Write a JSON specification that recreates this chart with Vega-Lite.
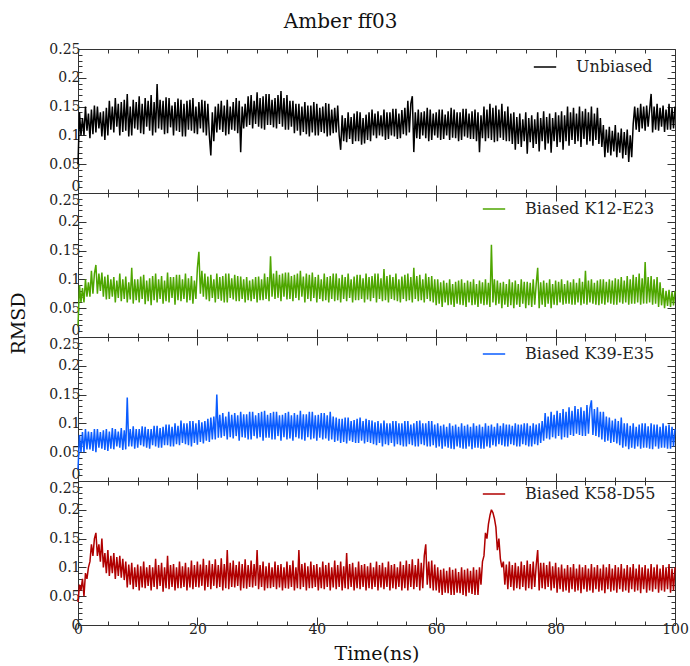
{
"$schema":"https://vega.github.io/schema/vega-lite/v6.json",
"padding":{"left":9,"top":12,"right":10,"bottom":5},
"title":{"text":"Amber ff03","fontSize":20,"font":"DejaVu Serif","fontWeight":"normal","anchor":"middle","offset":10,"dx":-8,"color":"#111"},
"config":{"font":"DejaVu Serif","view":{"stroke":null},"line":{"strokeWidth":1.5,"strokeJoin":"bevel"},"axis":{"labelFont":"DejaVu Serif","labelFontSize":14,"labelColor":"#222","titleFont":"DejaVu Serif","titleFontWeight":"normal","titleColor":"#111","grid":false,"domainColor":"#333","tickColor":"#333","labelOverlap":false,"labelFlush":false,"labelBound":false},"legend":{"orient":"none","title":null,"symbolType":"stroke","symbolSize":500,"symbolStrokeWidth":1.2,"labelFont":"DejaVu Serif","labelFontSize":16,"labelColor":"#222","labelOffset":19,"padding":0}},
"spacing":0,
"bounds":"flush",
"resolve":{"scale":{"color":"independent"},"legend":{"color":"independent"}},
"data":{"values":[
{"t":0,"u":0.05,"g":0.02,"b":0.02,"r":0.04},
{"t":0.25,"u":0.14,"g":0.09,"b":0.08,"r":0.07},
{"t":0.5,"u":0.1,"g":0.06,"b":0.05,"r":0.06},
{"t":0.75,"u":0.13,"g":0.085,"b":0.085,"r":0.08},
{"t":1,"u":0.1,"g":0.06,"b":0.05,"r":0.05},
{"t":1.25,"u":0.15,"g":0.1,"b":0.09,"r":0.09},
{"t":1.5,"u":0.108,"g":0.07,"b":0.055,"r":0.08},
{"t":1.75,"u":0.138,"g":0.095,"b":0.086,"r":0.1},
{"t":2,"u":0.095,"g":0.07,"b":0.055,"r":0.11},
{"t":2.25,"u":0.145,"g":0.115,"b":0.085,"r":0.14},
{"t":2.5,"u":0.102,"g":0.075,"b":0.052,"r":0.12},
{"t":2.75,"u":0.152,"g":0.11,"b":0.09,"r":0.15},
{"t":3,"u":0.105,"g":0.125,"b":0.05,"r":0.16},
{"t":3.25,"u":0.15,"g":0.075,"b":0.09,"r":0.12},
{"t":3.5,"u":0.112,"g":0.11,"b":0.058,"r":0.14},
{"t":3.75,"u":0.14,"g":0.08,"b":0.085,"r":0.11},
{"t":4,"u":0.098,"g":0.112,"b":0.056,"r":0.15},
{"t":4.25,"u":0.142,"g":0.07,"b":0.088,"r":0.1},
{"t":4.5,"u":0.092,"g":0.105,"b":0.054,"r":0.125},
{"t":4.75,"u":0.148,"g":0.065,"b":0.09,"r":0.09},
{"t":5,"u":0.1,"g":0.108,"b":0.052,"r":0.13},
{"t":5.25,"u":0.16,"g":0.066,"b":0.086,"r":0.085},
{"t":5.5,"u":0.11,"g":0.1,"b":0.056,"r":0.12},
{"t":5.75,"u":0.15,"g":0.07,"b":0.092,"r":0.09},
{"t":6,"u":0.105,"g":0.104,"b":0.055,"r":0.125},
{"t":6.25,"u":0.165,"g":0.06,"b":0.09,"r":0.08},
{"t":6.5,"u":0.115,"g":0.098,"b":0.06,"r":0.118},
{"t":6.75,"u":0.155,"g":0.068,"b":0.086,"r":0.085},
{"t":7,"u":0.1,"g":0.11,"b":0.058,"r":0.12},
{"t":7.25,"u":0.158,"g":0.062,"b":0.092,"r":0.082},
{"t":7.5,"u":0.106,"g":0.1,"b":0.054,"r":0.115},
{"t":7.75,"u":0.162,"g":0.066,"b":0.088,"r":0.078},
{"t":8,"u":0.108,"g":0.105,"b":0.055,"r":0.11},
{"t":8.25,"u":0.172,"g":0.06,"b":0.145,"r":0.065},
{"t":8.5,"u":0.098,"g":0.095,"b":0.06,"r":0.105},
{"t":8.75,"u":0.15,"g":0.065,"b":0.09,"r":0.07},
{"t":9,"u":0.1,"g":0.12,"b":0.06,"r":0.108},
{"t":9.25,"u":0.162,"g":0.058,"b":0.095,"r":0.062},
{"t":9.5,"u":0.112,"g":0.1,"b":0.056,"r":0.1},
{"t":9.75,"u":0.158,"g":0.064,"b":0.09,"r":0.066},
{"t":10,"u":0.11,"g":0.1,"b":0.058,"r":0.105},
{"t":10.25,"u":0.168,"g":0.06,"b":0.09,"r":0.06},
{"t":10.5,"u":0.104,"g":0.105,"b":0.062,"r":0.102},
{"t":10.75,"u":0.155,"g":0.066,"b":0.095,"r":0.065},
{"t":11,"u":0.102,"g":0.108,"b":0.06,"r":0.11},
{"t":11.25,"u":0.165,"g":0.057,"b":0.094,"r":0.064},
{"t":11.5,"u":0.115,"g":0.098,"b":0.058,"r":0.1},
{"t":11.75,"u":0.16,"g":0.062,"b":0.09,"r":0.068},
{"t":12,"u":0.108,"g":0.102,"b":0.056,"r":0.104},
{"t":12.25,"u":0.17,"g":0.055,"b":0.09,"r":0.06},
{"t":12.5,"u":0.1,"g":0.106,"b":0.062,"r":0.1},
{"t":12.75,"u":0.158,"g":0.064,"b":0.096,"r":0.066},
{"t":13,"u":0.105,"g":0.11,"b":0.06,"r":0.115},
{"t":13.25,"u":0.189,"g":0.06,"b":0.096,"r":0.062},
{"t":13.5,"u":0.112,"g":0.1,"b":0.058,"r":0.104},
{"t":13.75,"u":0.162,"g":0.066,"b":0.092,"r":0.068},
{"t":14,"u":0.11,"g":0.106,"b":0.058,"r":0.108},
{"t":14.25,"u":0.16,"g":0.058,"b":0.094,"r":0.058},
{"t":14.5,"u":0.102,"g":0.098,"b":0.062,"r":0.1},
{"t":14.75,"u":0.166,"g":0.062,"b":0.098,"r":0.064},
{"t":15,"u":0.104,"g":0.112,"b":0.062,"r":0.12},
{"t":15.25,"u":0.165,"g":0.06,"b":0.098,"r":0.062},
{"t":15.5,"u":0.114,"g":0.104,"b":0.06,"r":0.104},
{"t":15.75,"u":0.152,"g":0.068,"b":0.094,"r":0.066},
{"t":16,"u":0.1,"g":0.104,"b":0.06,"r":0.106},
{"t":16.25,"u":0.158,"g":0.056,"b":0.1,"r":0.06},
{"t":16.5,"u":0.108,"g":0.108,"b":0.064,"r":0.1},
{"t":16.75,"u":0.164,"g":0.064,"b":0.096,"r":0.064},
{"t":17,"u":0.106,"g":0.108,"b":0.062,"r":0.11},
{"t":17.25,"u":0.162,"g":0.062,"b":0.105,"r":0.064},
{"t":17.5,"u":0.098,"g":0.1,"b":0.066,"r":0.102},
{"t":17.75,"u":0.155,"g":0.066,"b":0.1,"r":0.066},
{"t":18,"u":0.098,"g":0.11,"b":0.064,"r":0.108},
{"t":18.25,"u":0.16,"g":0.06,"b":0.1,"r":0.06},
{"t":18.5,"u":0.11,"g":0.102,"b":0.062,"r":0.1},
{"t":18.75,"u":0.162,"g":0.064,"b":0.104,"r":0.065},
{"t":19,"u":0.108,"g":0.106,"b":0.06,"r":0.112},
{"t":19.25,"u":0.165,"g":0.058,"b":0.104,"r":0.062},
{"t":19.5,"u":0.104,"g":0.098,"b":0.066,"r":0.104},
{"t":19.75,"u":0.15,"g":0.066,"b":0.1,"r":0.066},
{"t":20,"u":0.102,"g":0.12,"b":0.063,"r":0.11},
{"t":20.25,"u":0.158,"g":0.148,"b":0.106,"r":0.065},
{"t":20.5,"u":0.112,"g":0.075,"b":0.068,"r":0.105},
{"t":20.75,"u":0.162,"g":0.115,"b":0.102,"r":0.068},
{"t":21,"u":0.105,"g":0.07,"b":0.065,"r":0.115},
{"t":21.25,"u":0.16,"g":0.11,"b":0.104,"r":0.06},
{"t":21.5,"u":0.1,"g":0.065,"b":0.07,"r":0.104},
{"t":21.75,"u":0.155,"g":0.105,"b":0.108,"r":0.066},
{"t":22,"u":0.1,"g":0.062,"b":0.068,"r":0.112},
{"t":22.25,"u":0.065,"g":0.108,"b":0.11,"r":0.062},
{"t":22.5,"u":0.14,"g":0.068,"b":0.072,"r":0.106},
{"t":22.75,"u":0.09,"g":0.1,"b":0.112,"r":0.068},
{"t":23,"u":0.15,"g":0.06,"b":0.072,"r":0.114},
{"t":23.25,"u":0.105,"g":0.11,"b":0.15,"r":0.064},
{"t":23.5,"u":0.155,"g":0.066,"b":0.075,"r":0.104},
{"t":23.75,"u":0.11,"g":0.104,"b":0.115,"r":0.066},
{"t":24,"u":0.16,"g":0.063,"b":0.075,"r":0.116},
{"t":24.25,"u":0.106,"g":0.106,"b":0.118,"r":0.06},
{"t":24.5,"u":0.152,"g":0.06,"b":0.078,"r":0.106},
{"t":24.75,"u":0.1,"g":0.11,"b":0.112,"r":0.064},
{"t":25,"u":0.162,"g":0.06,"b":0.072,"r":0.13},
{"t":25.25,"u":0.102,"g":0.11,"b":0.12,"r":0.062},
{"t":25.5,"u":0.15,"g":0.068,"b":0.076,"r":0.108},
{"t":25.75,"u":0.11,"g":0.102,"b":0.115,"r":0.066},
{"t":26,"u":0.158,"g":0.065,"b":0.074,"r":0.112},
{"t":26.25,"u":0.108,"g":0.108,"b":0.118,"r":0.065},
{"t":26.5,"u":0.165,"g":0.062,"b":0.078,"r":0.104},
{"t":26.75,"u":0.104,"g":0.106,"b":0.114,"r":0.068},
{"t":27,"u":0.16,"g":0.062,"b":0.07,"r":0.11},
{"t":27.25,"u":0.071,"g":0.105,"b":0.12,"r":0.06},
{"t":27.5,"u":0.15,"g":0.066,"b":0.076,"r":0.106},
{"t":27.75,"u":0.112,"g":0.1,"b":0.116,"r":0.064},
{"t":28,"u":0.155,"g":0.06,"b":0.075,"r":0.114},
{"t":28.25,"u":0.115,"g":0.104,"b":0.116,"r":0.063},
{"t":28.5,"u":0.168,"g":0.064,"b":0.072,"r":0.104},
{"t":28.75,"u":0.118,"g":0.098,"b":0.12,"r":0.066},
{"t":29,"u":0.17,"g":0.062,"b":0.072,"r":0.112},
{"t":29.25,"u":0.112,"g":0.1,"b":0.12,"r":0.065},
{"t":29.5,"u":0.16,"g":0.066,"b":0.078,"r":0.106},
{"t":29.75,"u":0.12,"g":0.104,"b":0.114,"r":0.068},
{"t":30,"u":0.175,"g":0.06,"b":0.074,"r":0.13},
{"t":30.25,"u":0.115,"g":0.105,"b":0.118,"r":0.062},
{"t":30.5,"u":0.165,"g":0.064,"b":0.076,"r":0.104},
{"t":30.75,"u":0.112,"g":0.1,"b":0.12,"r":0.066},
{"t":31,"u":0.168,"g":0.064,"b":0.07,"r":0.11},
{"t":31.25,"u":0.11,"g":0.11,"b":0.122,"r":0.06},
{"t":31.5,"u":0.172,"g":0.066,"b":0.075,"r":0.102},
{"t":31.75,"u":0.118,"g":0.104,"b":0.115,"r":0.064},
{"t":32,"u":0.172,"g":0.062,"b":0.075,"r":0.108},
{"t":32.25,"u":0.118,"g":0.14,"b":0.118,"r":0.064},
{"t":32.5,"u":0.162,"g":0.07,"b":0.072,"r":0.1},
{"t":32.75,"u":0.114,"g":0.11,"b":0.12,"r":0.066},
{"t":33,"u":0.165,"g":0.066,"b":0.072,"r":0.11},
{"t":33.25,"u":0.112,"g":0.115,"b":0.12,"r":0.062},
{"t":33.5,"u":0.17,"g":0.068,"b":0.078,"r":0.104},
{"t":33.75,"u":0.12,"g":0.108,"b":0.114,"r":0.065},
{"t":34,"u":0.177,"g":0.062,"b":0.07,"r":0.106},
{"t":34.25,"u":0.115,"g":0.11,"b":0.115,"r":0.06},
{"t":34.5,"u":0.165,"g":0.07,"b":0.076,"r":0.1},
{"t":34.75,"u":0.11,"g":0.112,"b":0.118,"r":0.064},
{"t":35,"u":0.17,"g":0.065,"b":0.072,"r":0.11},
{"t":35.25,"u":0.11,"g":0.112,"b":0.12,"r":0.063},
{"t":35.5,"u":0.16,"g":0.066,"b":0.074,"r":0.104},
{"t":35.75,"u":0.115,"g":0.106,"b":0.114,"r":0.066},
{"t":36,"u":0.16,"g":0.062,"b":0.07,"r":0.112},
{"t":36.25,"u":0.104,"g":0.108,"b":0.118,"r":0.06},
{"t":36.5,"u":0.155,"g":0.068,"b":0.076,"r":0.1},
{"t":36.75,"u":0.108,"g":0.11,"b":0.115,"r":0.064},
{"t":37,"u":0.155,"g":0.064,"b":0.074,"r":0.13},
{"t":37.25,"u":0.1,"g":0.115,"b":0.122,"r":0.062},
{"t":37.5,"u":0.15,"g":0.07,"b":0.072,"r":0.106},
{"t":37.75,"u":0.106,"g":0.105,"b":0.116,"r":0.066},
{"t":38,"u":0.158,"g":0.06,"b":0.07,"r":0.108},
{"t":38.25,"u":0.102,"g":0.11,"b":0.116,"r":0.06},
{"t":38.5,"u":0.152,"g":0.066,"b":0.076,"r":0.102},
{"t":38.75,"u":0.098,"g":0.108,"b":0.12,"r":0.064},
{"t":39,"u":0.152,"g":0.062,"b":0.072,"r":0.11},
{"t":39.25,"u":0.105,"g":0.112,"b":0.12,"r":0.064},
{"t":39.5,"u":0.158,"g":0.068,"b":0.074,"r":0.104},
{"t":39.75,"u":0.1,"g":0.104,"b":0.114,"r":0.066},
{"t":40,"u":0.155,"g":0.06,"b":0.07,"r":0.106},
{"t":40.25,"u":0.1,"g":0.108,"b":0.115,"r":0.06},
{"t":40.5,"u":0.148,"g":0.066,"b":0.075,"r":0.1},
{"t":40.75,"u":0.106,"g":0.1,"b":0.118,"r":0.064},
{"t":41,"u":0.15,"g":0.062,"b":0.072,"r":0.11},
{"t":41.25,"u":0.104,"g":0.11,"b":0.118,"r":0.062},
{"t":41.5,"u":0.156,"g":0.064,"b":0.074,"r":0.104},
{"t":41.75,"u":0.098,"g":0.104,"b":0.114,"r":0.066},
{"t":42,"u":0.155,"g":0.06,"b":0.07,"r":0.108},
{"t":42.25,"u":0.1,"g":0.106,"b":0.12,"r":0.06},
{"t":42.5,"u":0.145,"g":0.066,"b":0.072,"r":0.1},
{"t":42.75,"u":0.104,"g":0.11,"b":0.112,"r":0.065},
{"t":43,"u":0.148,"g":0.062,"b":0.068,"r":0.112},
{"t":43.25,"u":0.105,"g":0.11,"b":0.11,"r":0.062},
{"t":43.5,"u":0.152,"g":0.064,"b":0.07,"r":0.104},
{"t":43.75,"u":0.1,"g":0.102,"b":0.108,"r":0.066},
{"t":44,"u":0.075,"g":0.06,"b":0.066,"r":0.11},
{"t":44.25,"u":0.135,"g":0.108,"b":0.108,"r":0.06},
{"t":44.5,"u":0.09,"g":0.066,"b":0.068,"r":0.102},
{"t":44.75,"u":0.13,"g":0.104,"b":0.11,"r":0.064},
{"t":45,"u":0.088,"g":0.062,"b":0.065,"r":0.125},
{"t":45.25,"u":0.14,"g":0.11,"b":0.11,"r":0.062},
{"t":45.5,"u":0.094,"g":0.068,"b":0.07,"r":0.106},
{"t":45.75,"u":0.132,"g":0.1,"b":0.104,"r":0.066},
{"t":46,"u":0.085,"g":0.06,"b":0.068,"r":0.108},
{"t":46.25,"u":0.138,"g":0.105,"b":0.106,"r":0.06},
{"t":46.5,"u":0.09,"g":0.064,"b":0.066,"r":0.1},
{"t":46.75,"u":0.142,"g":0.108,"b":0.108,"r":0.064},
{"t":47,"u":0.09,"g":0.064,"b":0.066,"r":0.11},
{"t":47.25,"u":0.14,"g":0.108,"b":0.11,"r":0.062},
{"t":47.5,"u":0.084,"g":0.066,"b":0.07,"r":0.104},
{"t":47.75,"u":0.13,"g":0.102,"b":0.104,"r":0.066},
{"t":48,"u":0.086,"g":0.06,"b":0.065,"r":0.106},
{"t":48.25,"u":0.136,"g":0.11,"b":0.108,"r":0.06},
{"t":48.5,"u":0.092,"g":0.065,"b":0.068,"r":0.102},
{"t":48.75,"u":0.14,"g":0.104,"b":0.106,"r":0.064},
{"t":49,"u":0.09,"g":0.062,"b":0.066,"r":0.108},
{"t":49.25,"u":0.145,"g":0.106,"b":0.105,"r":0.062},
{"t":49.5,"u":0.1,"g":0.068,"b":0.064,"r":0.1},
{"t":49.75,"u":0.138,"g":0.11,"b":0.102,"r":0.066},
{"t":50,"u":0.095,"g":0.06,"b":0.062,"r":0.11},
{"t":50.25,"u":0.142,"g":0.11,"b":0.104,"r":0.06},
{"t":50.5,"u":0.1,"g":0.066,"b":0.066,"r":0.104},
{"t":50.75,"u":0.135,"g":0.102,"b":0.1,"r":0.065},
{"t":51,"u":0.098,"g":0.062,"b":0.06,"r":0.108},
{"t":51.25,"u":0.145,"g":0.118,"b":0.105,"r":0.062},
{"t":51.5,"u":0.092,"g":0.064,"b":0.064,"r":0.1},
{"t":51.75,"u":0.14,"g":0.106,"b":0.1,"r":0.066},
{"t":52,"u":0.094,"g":0.06,"b":0.062,"r":0.11},
{"t":52.25,"u":0.14,"g":0.108,"b":0.1,"r":0.06},
{"t":52.5,"u":0.1,"g":0.066,"b":0.066,"r":0.104},
{"t":52.75,"u":0.146,"g":0.104,"b":0.104,"r":0.064},
{"t":53,"u":0.098,"g":0.064,"b":0.06,"r":0.106},
{"t":53.25,"u":0.146,"g":0.11,"b":0.104,"r":0.062},
{"t":53.5,"u":0.094,"g":0.062,"b":0.064,"r":0.1},
{"t":53.75,"u":0.138,"g":0.1,"b":0.1,"r":0.066},
{"t":54,"u":0.095,"g":0.06,"b":0.062,"r":0.11},
{"t":54.25,"u":0.144,"g":0.105,"b":0.1,"r":0.06},
{"t":54.5,"u":0.102,"g":0.066,"b":0.06,"r":0.104},
{"t":54.75,"u":0.148,"g":0.108,"b":0.104,"r":0.064},
{"t":55,"u":0.1,"g":0.062,"b":0.06,"r":0.112},
{"t":55.25,"u":0.16,"g":0.11,"b":0.104,"r":0.06},
{"t":55.5,"u":0.105,"g":0.064,"b":0.064,"r":0.106},
{"t":55.75,"u":0.155,"g":0.104,"b":0.098,"r":0.066},
{"t":56,"u":0.168,"g":0.06,"b":0.062,"r":0.114},
{"t":56.25,"u":0.071,"g":0.12,"b":0.1,"r":0.062},
{"t":56.5,"u":0.14,"g":0.066,"b":0.06,"r":0.104},
{"t":56.75,"u":0.095,"g":0.106,"b":0.104,"r":0.066},
{"t":57,"u":0.145,"g":0.062,"b":0.06,"r":0.115},
{"t":57.25,"u":0.094,"g":0.108,"b":0.105,"r":0.06},
{"t":57.5,"u":0.14,"g":0.064,"b":0.064,"r":0.108},
{"t":57.75,"u":0.1,"g":0.1,"b":0.1,"r":0.064},
{"t":58,"u":0.142,"g":0.06,"b":0.062,"r":0.12},
{"t":58.25,"u":0.095,"g":0.11,"b":0.1,"r":0.14},
{"t":58.5,"u":0.148,"g":0.066,"b":0.06,"r":0.07},
{"t":58.75,"u":0.09,"g":0.104,"b":0.104,"r":0.11},
{"t":59,"u":0.145,"g":0.062,"b":0.06,"r":0.064},
{"t":59.25,"u":0.092,"g":0.106,"b":0.104,"r":0.112},
{"t":59.5,"u":0.138,"g":0.06,"b":0.062,"r":0.06},
{"t":59.75,"u":0.1,"g":0.1,"b":0.098,"r":0.105},
{"t":60,"u":0.14,"g":0.055,"b":0.058,"r":0.06},
{"t":60.25,"u":0.096,"g":0.1,"b":0.1,"r":0.1},
{"t":60.5,"u":0.145,"g":0.058,"b":0.06,"r":0.056},
{"t":60.75,"u":0.092,"g":0.095,"b":0.096,"r":0.096},
{"t":61,"u":0.145,"g":0.052,"b":0.056,"r":0.052},
{"t":61.25,"u":0.094,"g":0.098,"b":0.098,"r":0.098},
{"t":61.5,"u":0.136,"g":0.06,"b":0.06,"r":0.056},
{"t":61.75,"u":0.1,"g":0.094,"b":0.094,"r":0.094},
{"t":62,"u":0.142,"g":0.055,"b":0.058,"r":0.055},
{"t":62.25,"u":0.092,"g":0.1,"b":0.1,"r":0.1},
{"t":62.5,"u":0.148,"g":0.056,"b":0.056,"r":0.052},
{"t":62.75,"u":0.096,"g":0.092,"b":0.096,"r":0.096},
{"t":63,"u":0.145,"g":0.052,"b":0.055,"r":0.052},
{"t":63.25,"u":0.095,"g":0.096,"b":0.098,"r":0.098},
{"t":63.5,"u":0.14,"g":0.058,"b":0.06,"r":0.056},
{"t":63.75,"u":0.09,"g":0.098,"b":0.094,"r":0.092},
{"t":64,"u":0.14,"g":0.056,"b":0.058,"r":0.055},
{"t":64.25,"u":0.092,"g":0.1,"b":0.1,"r":0.1},
{"t":64.5,"u":0.146,"g":0.055,"b":0.056,"r":0.052},
{"t":64.75,"u":0.098,"g":0.094,"b":0.096,"r":0.096},
{"t":65,"u":0.146,"g":0.052,"b":0.056,"r":0.05},
{"t":65.25,"u":0.096,"g":0.098,"b":0.098,"r":0.098},
{"t":65.5,"u":0.138,"g":0.06,"b":0.06,"r":0.056},
{"t":65.75,"u":0.094,"g":0.096,"b":0.094,"r":0.094},
{"t":66,"u":0.142,"g":0.055,"b":0.055,"r":0.054},
{"t":66.25,"u":0.094,"g":0.1,"b":0.1,"r":0.1},
{"t":66.5,"u":0.145,"g":0.056,"b":0.058,"r":0.052},
{"t":66.75,"u":0.09,"g":0.092,"b":0.096,"r":0.096},
{"t":67,"u":0.14,"g":0.052,"b":0.058,"r":0.052},
{"t":67.25,"u":0.071,"g":0.098,"b":0.098,"r":0.1},
{"t":67.5,"u":0.135,"g":0.058,"b":0.056,"r":0.07},
{"t":67.75,"u":0.095,"g":0.095,"b":0.094,"r":0.11},
{"t":68,"u":0.15,"g":0.055,"b":0.056,"r":0.12},
{"t":68.25,"u":0.09,"g":0.1,"b":0.1,"r":0.16},
{"t":68.5,"u":0.145,"g":0.056,"b":0.06,"r":0.15},
{"t":68.75,"u":0.095,"g":0.094,"b":0.096,"r":0.175},
{"t":69,"u":0.155,"g":0.052,"b":0.058,"r":0.19},
{"t":69.25,"u":0.092,"g":0.16,"b":0.098,"r":0.2},
{"t":69.5,"u":0.148,"g":0.06,"b":0.062,"r":0.195},
{"t":69.75,"u":0.088,"g":0.1,"b":0.094,"r":0.185},
{"t":70,"u":0.152,"g":0.055,"b":0.06,"r":0.17},
{"t":70.25,"u":0.09,"g":0.098,"b":0.1,"r":0.13},
{"t":70.5,"u":0.145,"g":0.058,"b":0.064,"r":0.15},
{"t":70.75,"u":0.096,"g":0.094,"b":0.096,"r":0.115},
{"t":71,"u":0.155,"g":0.05,"b":0.062,"r":0.1},
{"t":71.25,"u":0.092,"g":0.096,"b":0.1,"r":0.11},
{"t":71.5,"u":0.142,"g":0.056,"b":0.06,"r":0.07},
{"t":71.75,"u":0.09,"g":0.092,"b":0.098,"r":0.105},
{"t":72,"u":0.15,"g":0.052,"b":0.06,"r":0.062},
{"t":72.25,"u":0.09,"g":0.1,"b":0.098,"r":0.11},
{"t":72.5,"u":0.138,"g":0.055,"b":0.064,"r":0.066},
{"t":72.75,"u":0.085,"g":0.095,"b":0.096,"r":0.104},
{"t":73,"u":0.14,"g":0.05,"b":0.062,"r":0.06},
{"t":73.25,"u":0.075,"g":0.098,"b":0.1,"r":0.108},
{"t":73.5,"u":0.132,"g":0.056,"b":0.06,"r":0.064},
{"t":73.75,"u":0.085,"g":0.092,"b":0.098,"r":0.102},
{"t":74,"u":0.138,"g":0.052,"b":0.06,"r":0.062},
{"t":74.25,"u":0.08,"g":0.1,"b":0.098,"r":0.11},
{"t":74.5,"u":0.128,"g":0.058,"b":0.064,"r":0.066},
{"t":74.75,"u":0.09,"g":0.096,"b":0.1,"r":0.104},
{"t":75,"u":0.14,"g":0.05,"b":0.062,"r":0.06},
{"t":75.25,"u":0.068,"g":0.096,"b":0.1,"r":0.112},
{"t":75.5,"u":0.13,"g":0.055,"b":0.06,"r":0.064},
{"t":75.75,"u":0.088,"g":0.094,"b":0.096,"r":0.106},
{"t":76,"u":0.135,"g":0.052,"b":0.06,"r":0.062},
{"t":76.25,"u":0.078,"g":0.1,"b":0.1,"r":0.11},
{"t":76.5,"u":0.128,"g":0.056,"b":0.064,"r":0.066},
{"t":76.75,"u":0.085,"g":0.092,"b":0.098,"r":0.104},
{"t":77,"u":0.14,"g":0.12,"b":0.062,"r":0.13},
{"t":77.25,"u":0.072,"g":0.05,"b":0.1,"r":0.06},
{"t":77.5,"u":0.13,"g":0.095,"b":0.066,"r":0.108},
{"t":77.75,"u":0.09,"g":0.056,"b":0.104,"r":0.064},
{"t":78,"u":0.142,"g":0.098,"b":0.07,"r":0.108},
{"t":78.25,"u":0.075,"g":0.052,"b":0.118,"r":0.062},
{"t":78.5,"u":0.132,"g":0.094,"b":0.074,"r":0.104},
{"t":78.75,"u":0.086,"g":0.058,"b":0.112,"r":0.066},
{"t":79,"u":0.138,"g":0.1,"b":0.072,"r":0.11},
{"t":79.25,"u":0.07,"g":0.05,"b":0.12,"r":0.06},
{"t":79.5,"u":0.13,"g":0.092,"b":0.076,"r":0.102},
{"t":79.75,"u":0.09,"g":0.056,"b":0.115,"r":0.064},
{"t":80,"u":0.14,"g":0.098,"b":0.074,"r":0.108},
{"t":80.25,"u":0.08,"g":0.055,"b":0.122,"r":0.056},
{"t":80.5,"u":0.135,"g":0.096,"b":0.078,"r":0.1},
{"t":80.75,"u":0.088,"g":0.06,"b":0.118,"r":0.062},
{"t":81,"u":0.142,"g":0.1,"b":0.072,"r":0.105},
{"t":81.25,"u":0.075,"g":0.056,"b":0.125,"r":0.058},
{"t":81.5,"u":0.135,"g":0.092,"b":0.076,"r":0.098},
{"t":81.75,"u":0.09,"g":0.058,"b":0.12,"r":0.06},
{"t":82,"u":0.15,"g":0.098,"b":0.075,"r":0.104},
{"t":82.25,"u":0.082,"g":0.058,"b":0.128,"r":0.056},
{"t":82.5,"u":0.14,"g":0.095,"b":0.08,"r":0.1},
{"t":82.75,"u":0.092,"g":0.056,"b":0.122,"r":0.062},
{"t":83,"u":0.148,"g":0.1,"b":0.078,"r":0.106},
{"t":83.25,"u":0.085,"g":0.056,"b":0.13,"r":0.058},
{"t":83.5,"u":0.138,"g":0.094,"b":0.082,"r":0.098},
{"t":83.75,"u":0.09,"g":0.06,"b":0.125,"r":0.06},
{"t":84,"u":0.15,"g":0.102,"b":0.08,"r":0.105},
{"t":84.25,"u":0.08,"g":0.055,"b":0.128,"r":0.055},
{"t":84.5,"u":0.142,"g":0.096,"b":0.078,"r":0.1},
{"t":84.75,"u":0.094,"g":0.058,"b":0.122,"r":0.062},
{"t":85,"u":0.146,"g":0.115,"b":0.078,"r":0.104},
{"t":85.25,"u":0.084,"g":0.056,"b":0.132,"r":0.058},
{"t":85.5,"u":0.14,"g":0.098,"b":0.082,"r":0.098},
{"t":85.75,"u":0.09,"g":0.06,"b":0.126,"r":0.06},
{"t":86,"u":0.15,"g":0.1,"b":0.14,"r":0.106},
{"t":86.25,"u":0.082,"g":0.058,"b":0.08,"r":0.056},
{"t":86.5,"u":0.138,"g":0.094,"b":0.125,"r":0.1},
{"t":86.75,"u":0.092,"g":0.056,"b":0.078,"r":0.062},
{"t":87,"u":0.148,"g":0.098,"b":0.128,"r":0.104},
{"t":87.25,"u":0.085,"g":0.055,"b":0.076,"r":0.058},
{"t":87.5,"u":0.13,"g":0.1,"b":0.12,"r":0.098},
{"t":87.75,"u":0.08,"g":0.058,"b":0.072,"r":0.06},
{"t":88,"u":0.118,"g":0.1,"b":0.12,"r":0.105},
{"t":88.25,"u":0.062,"g":0.056,"b":0.068,"r":0.055},
{"t":88.5,"u":0.11,"g":0.096,"b":0.112,"r":0.1},
{"t":88.75,"u":0.07,"g":0.06,"b":0.07,"r":0.062},
{"t":89,"u":0.115,"g":0.1,"b":0.11,"r":0.106},
{"t":89.25,"u":0.065,"g":0.058,"b":0.066,"r":0.058},
{"t":89.5,"u":0.108,"g":0.098,"b":0.105,"r":0.098},
{"t":89.75,"u":0.072,"g":0.056,"b":0.068,"r":0.06},
{"t":90,"u":0.118,"g":0.102,"b":0.108,"r":0.104},
{"t":90.25,"u":0.062,"g":0.056,"b":0.065,"r":0.056},
{"t":90.5,"u":0.105,"g":0.1,"b":0.104,"r":0.1},
{"t":90.75,"u":0.07,"g":0.06,"b":0.062,"r":0.062},
{"t":91,"u":0.112,"g":0.104,"b":0.11,"r":0.106},
{"t":91.25,"u":0.06,"g":0.058,"b":0.058,"r":0.058},
{"t":91.5,"u":0.106,"g":0.098,"b":0.1,"r":0.098},
{"t":91.75,"u":0.066,"g":0.06,"b":0.06,"r":0.06},
{"t":92,"u":0.11,"g":0.106,"b":0.1,"r":0.104},
{"t":92.25,"u":0.054,"g":0.056,"b":0.055,"r":0.056},
{"t":92.5,"u":0.1,"g":0.1,"b":0.096,"r":0.1},
{"t":92.75,"u":0.062,"g":0.058,"b":0.058,"r":0.062},
{"t":93,"u":0.12,"g":0.108,"b":0.1,"r":0.106},
{"t":93.25,"u":0.15,"g":0.058,"b":0.056,"r":0.058},
{"t":93.5,"u":0.11,"g":0.104,"b":0.094,"r":0.098},
{"t":93.75,"u":0.148,"g":0.06,"b":0.06,"r":0.06},
{"t":94,"u":0.106,"g":0.11,"b":0.098,"r":0.105},
{"t":94.25,"u":0.155,"g":0.056,"b":0.056,"r":0.055},
{"t":94.5,"u":0.112,"g":0.102,"b":0.1,"r":0.1},
{"t":94.75,"u":0.15,"g":0.058,"b":0.058,"r":0.062},
{"t":95,"u":0.108,"g":0.13,"b":0.1,"r":0.104},
{"t":95.25,"u":0.152,"g":0.058,"b":0.058,"r":0.056},
{"t":95.5,"u":0.115,"g":0.104,"b":0.095,"r":0.098},
{"t":95.75,"u":0.145,"g":0.06,"b":0.056,"r":0.06},
{"t":96,"u":0.172,"g":0.106,"b":0.1,"r":0.106},
{"t":96.25,"u":0.105,"g":0.056,"b":0.055,"r":0.058},
{"t":96.5,"u":0.15,"g":0.1,"b":0.098,"r":0.1},
{"t":96.75,"u":0.11,"g":0.058,"b":0.06,"r":0.062},
{"t":97,"u":0.155,"g":0.104,"b":0.098,"r":0.105},
{"t":97.25,"u":0.108,"g":0.052,"b":0.056,"r":0.056},
{"t":97.5,"u":0.148,"g":0.095,"b":0.094,"r":0.098},
{"t":97.75,"u":0.115,"g":0.055,"b":0.058,"r":0.06},
{"t":98,"u":0.152,"g":0.085,"b":0.1,"r":0.104},
{"t":98.25,"u":0.106,"g":0.05,"b":0.058,"r":0.058},
{"t":98.5,"u":0.145,"g":0.08,"b":0.096,"r":0.1},
{"t":98.75,"u":0.11,"g":0.054,"b":0.056,"r":0.062},
{"t":99,"u":0.155,"g":0.082,"b":0.098,"r":0.106},
{"t":99.25,"u":0.11,"g":0.052,"b":0.056,"r":0.056},
{"t":99.5,"u":0.148,"g":0.078,"b":0.094,"r":0.098},
{"t":99.75,"u":0.112,"g":0.055,"b":0.06,"r":0.06},
{"t":100,"u":0.15,"g":0.08,"b":0.09,"r":0.1}
]},
"vconcat":[
{"width":597,"height":144,
 "layer":[
  {"mark":{"type":"line"},
   "encoding":{
    "x":{"field":"t","type":"quantitative","scale":{"domain":[0,100],"nice":false,"zero":false},"axis":{"orient":"bottom","values":[0,5,10,15,20,25,30,35,40,45,50,55,60,65,70,75,80,85,90,95,100],"tickSize":{"condition":{"test":"datum.value%20==0","value":-8},"value":-4},"labels":false,"title":null}},
    "y":{"field":"u","type":"quantitative","scale":{"domain":[0,0.25],"nice":false},"axis":{"orient":"left","values":[0,0.01,0.02,0.03,0.04,0.05,0.06,0.07,0.08,0.09,0.1,0.11,0.12,0.13,0.14,0.15,0.16,0.17,0.18,0.19,0.2,0.21,0.22,0.23,0.24,0.25],"format":"~g","labelExpr":"round(datum.value*100)%5==0 ? datum.label : ''","tickSize":{"condition":{"test":"round(datum.value*100)%5==0","value":-8},"value":-4},"labelBaseline":{"condition":[{"test":"datum.value==0","value":"bottom"}],"value":"middle"},"labelPadding":6,"title":null}},
    "color":{"datum":"Unbiased","type":"nominal","scale":{"range":["#000000"]},"legend":{"legendX":455,"legendY":6}}
   }},
  {"mark":{"type":"line","opacity":0},
   "encoding":{
    "x":{"field":"t","type":"quantitative","axis":{"orient":"top","values":[0,5,10,15,20,25,30,35,40,45,50,55,60,65,70,75,80,85,90,95,100],"tickSize":{"condition":{"test":"datum.value%20==0","value":-8},"value":-4},"labels":false,"title":null}},
    "y":{"field":"u","type":"quantitative","axis":{"orient":"right","values":[0,0.01,0.02,0.03,0.04,0.05,0.06,0.07,0.08,0.09,0.1,0.11,0.12,0.13,0.14,0.15,0.16,0.17,0.18,0.19,0.2,0.21,0.22,0.23,0.24,0.25],"tickSize":{"condition":{"test":"round(datum.value*100)%5==0","value":-8},"value":-4},"labels":false,"title":null}}
   }}
 ],
 "resolve":{"axis":{"x":"independent","y":"independent"}}
},
{"width":597,"height":144,
 "layer":[
  {"mark":{"type":"line"},
   "encoding":{
    "x":{"field":"t","type":"quantitative","scale":{"domain":[0,100],"nice":false,"zero":false},"axis":{"orient":"bottom","values":[0,5,10,15,20,25,30,35,40,45,50,55,60,65,70,75,80,85,90,95,100],"tickSize":{"condition":{"test":"datum.value%20==0","value":-8},"value":-4},"labels":false,"title":null}},
    "y":{"field":"g","type":"quantitative","scale":{"domain":[0,0.25],"nice":false},"axis":{"orient":"left","values":[0,0.01,0.02,0.03,0.04,0.05,0.06,0.07,0.08,0.09,0.1,0.11,0.12,0.13,0.14,0.15,0.16,0.17,0.18,0.19,0.2,0.21,0.22,0.23,0.24,0.25],"format":"~g","labelExpr":"round(datum.value*100)%5==0 ? datum.label : ''","tickSize":{"condition":{"test":"round(datum.value*100)%5==0","value":-8},"value":-4},"labelBaseline":{"condition":[{"test":"datum.value==0","value":"bottom"},{"test":"datum.value==0.25","value":"top"}],"value":"middle"},"labelPadding":6,"title":null}},
    "color":{"datum":"Biased K12-E23","type":"nominal","scale":{"range":["#4ea600"]},"legend":{"legendX":404,"legendY":4}}
   }},
  {"mark":{"type":"line","opacity":0},
   "encoding":{
    "x":{"field":"t","type":"quantitative","axis":{"orient":"top","values":[0,5,10,15,20,25,30,35,40,45,50,55,60,65,70,75,80,85,90,95,100],"tickSize":{"condition":{"test":"datum.value%20==0","value":-8},"value":-4},"labels":false,"title":null}},
    "y":{"field":"g","type":"quantitative","axis":{"orient":"right","values":[0,0.01,0.02,0.03,0.04,0.05,0.06,0.07,0.08,0.09,0.1,0.11,0.12,0.13,0.14,0.15,0.16,0.17,0.18,0.19,0.2,0.21,0.22,0.23,0.24,0.25],"tickSize":{"condition":{"test":"round(datum.value*100)%5==0","value":-8},"value":-4},"labels":false,"title":null}}
   }}
 ],
 "resolve":{"axis":{"x":"independent","y":"independent"}}
},
{"width":597,"height":144,
 "layer":[
  {"mark":{"type":"line"},
   "encoding":{
    "x":{"field":"t","type":"quantitative","scale":{"domain":[0,100],"nice":false,"zero":false},"axis":{"orient":"bottom","values":[0,5,10,15,20,25,30,35,40,45,50,55,60,65,70,75,80,85,90,95,100],"tickSize":{"condition":{"test":"datum.value%20==0","value":-8},"value":-4},"labels":false,"title":null}},
    "y":{"field":"b","type":"quantitative","scale":{"domain":[0,0.25],"nice":false},"axis":{"orient":"left","values":[0,0.01,0.02,0.03,0.04,0.05,0.06,0.07,0.08,0.09,0.1,0.11,0.12,0.13,0.14,0.15,0.16,0.17,0.18,0.19,0.2,0.21,0.22,0.23,0.24,0.25],"format":"~g","labelExpr":"round(datum.value*100)%5==0 ? datum.label : ''","tickSize":{"condition":{"test":"round(datum.value*100)%5==0","value":-8},"value":-4},"labelBaseline":{"condition":[{"test":"datum.value==0","value":"bottom"},{"test":"datum.value==0.25","value":"top"}],"value":"middle"},"labelPadding":6,"title":"RMSD","titleFontSize":19,"titleX":-60,"titleY":-14,"titleAngle":-90,"titleAlign":"center","titleBaseline":"middle"}},
    "color":{"datum":"Biased K39-E35","type":"nominal","scale":{"range":["#0a5cff"]},"legend":{"legendX":404,"legendY":5}}
   }},
  {"mark":{"type":"line","opacity":0},
   "encoding":{
    "x":{"field":"t","type":"quantitative","axis":{"orient":"top","values":[0,5,10,15,20,25,30,35,40,45,50,55,60,65,70,75,80,85,90,95,100],"tickSize":{"condition":{"test":"datum.value%20==0","value":-8},"value":-4},"labels":false,"title":null}},
    "y":{"field":"b","type":"quantitative","axis":{"orient":"right","values":[0,0.01,0.02,0.03,0.04,0.05,0.06,0.07,0.08,0.09,0.1,0.11,0.12,0.13,0.14,0.15,0.16,0.17,0.18,0.19,0.2,0.21,0.22,0.23,0.24,0.25],"tickSize":{"condition":{"test":"round(datum.value*100)%5==0","value":-8},"value":-4},"labels":false,"title":null}}
   }}
 ],
 "resolve":{"axis":{"x":"independent","y":"independent"}}
},
{"width":597,"height":144,
 "layer":[
  {"mark":{"type":"line"},
   "encoding":{
    "x":{"field":"t","type":"quantitative","scale":{"domain":[0,100],"nice":false,"zero":false},"axis":{"orient":"bottom","values":[0,5,10,15,20,25,30,35,40,45,50,55,60,65,70,75,80,85,90,95,100],"tickSize":{"condition":{"test":"datum.value%20==0","value":-8},"value":-4},"labelExpr":"datum.value%20==0 ? datum.label : ''","format":"d","labelPadding":5,"title":"Time(ns)","titleFontSize":19,"titlePadding":4}},
    "y":{"field":"r","type":"quantitative","scale":{"domain":[0,0.25],"nice":false},"axis":{"orient":"left","values":[0,0.01,0.02,0.03,0.04,0.05,0.06,0.07,0.08,0.09,0.1,0.11,0.12,0.13,0.14,0.15,0.16,0.17,0.18,0.19,0.2,0.21,0.22,0.23,0.24,0.25],"format":"~g","labelExpr":"round(datum.value*100)%5==0 ? datum.label : ''","tickSize":{"condition":{"test":"round(datum.value*100)%5==0","value":-8},"value":-4},"labelBaseline":{"condition":[{"test":"datum.value==0.25","value":"top"}],"value":"middle"},"labelPadding":6,"title":null}},
    "color":{"datum":"Biased K58-D55","type":"nominal","scale":{"range":["#b00000"]},"legend":{"legendX":404,"legendY":1}}
   }},
  {"mark":{"type":"line","opacity":0},
   "encoding":{
    "x":{"field":"t","type":"quantitative","axis":{"orient":"top","values":[0,5,10,15,20,25,30,35,40,45,50,55,60,65,70,75,80,85,90,95,100],"tickSize":{"condition":{"test":"datum.value%20==0","value":-8},"value":-4},"labels":false,"title":null}},
    "y":{"field":"r","type":"quantitative","axis":{"orient":"right","values":[0,0.01,0.02,0.03,0.04,0.05,0.06,0.07,0.08,0.09,0.1,0.11,0.12,0.13,0.14,0.15,0.16,0.17,0.18,0.19,0.2,0.21,0.22,0.23,0.24,0.25],"tickSize":{"condition":{"test":"round(datum.value*100)%5==0","value":-8},"value":-4},"labels":false,"title":null}}
   }}
 ],
 "resolve":{"axis":{"x":"independent","y":"independent"}}
}
]
}
